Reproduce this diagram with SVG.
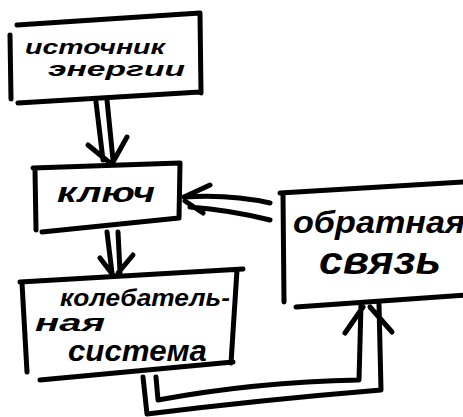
<svg xmlns="http://www.w3.org/2000/svg" width="463" height="417" viewBox="0 0 463 417">
<style>
.ln{stroke:#000;stroke-width:5;fill:none;stroke-linecap:round;stroke-linejoin:round}
.t{font-family:"Liberation Sans","DejaVu Sans",sans-serif;font-style:italic;font-weight:bold;fill:#000}
</style>
<rect width="463" height="417" fill="#fff"/>
<g id="node-source">
<path class="ln" d="M17 25 L200 13 M10 35 L11 99 M200 13 L201 93 M18 103 L200 92"/>
<text class="t" x="25" y="54" font-size="21" textLength="140" lengthAdjust="spacingAndGlyphs">источник</text>
<text class="t" x="48" y="76" font-size="21" textLength="137" lengthAdjust="spacingAndGlyphs">энергии</text>
</g>
<g id="node-key">
<path class="ln" d="M33 168 L180 163 M35 169 L36 230 M180 163 L179 218 M42 232 L179 218"/>
<text class="t" x="57" y="202" font-size="28" textLength="98" lengthAdjust="spacingAndGlyphs">ключ</text>
</g>
<g id="node-osc">
<path class="ln" d="M20 282 L243 269 M22 283 L27 372 M237 270 L231 363 M40 380 L233 362"/>
<text class="t" x="60" y="306" font-size="24" textLength="170" lengthAdjust="spacingAndGlyphs">колебатель-</text>
<text class="t" x="35" y="331" font-size="24" textLength="70" lengthAdjust="spacingAndGlyphs">ная</text>
<text class="t" x="68" y="361" font-size="29" textLength="139" lengthAdjust="spacingAndGlyphs">система</text>
</g>
<g id="node-feedback">
<path class="ln" d="M280 193 L465 182 M283 194 L284 302 M296 307 L465 295"/>
<text class="t" x="293" y="233" font-size="32" textLength="172" lengthAdjust="spacingAndGlyphs">обратная</text>
<text class="t" x="319" y="274" font-size="38" textLength="122" lengthAdjust="spacingAndGlyphs">связь</text>
</g>
<g id="connectors">
<path class="ln" d="M96 102 L103 160 M107 100 L113 160 M88 145 L110 163 M127 137 L113 162"/>
<path class="ln" d="M107 232 L112 273 M118 232 L120 272 M100 258 L113 275 M133 255 L118 273"/>
<path class="ln" d="M270 203 Q230 194 184 197 M270 220 Q230 210 190 207 M210 185 L184 197 M203 213 L185 201"/>
<path class="ln" d="M143 377 L147 414 Q260 400 381 390 L379 304 M156 377 L158 400 Q255 382 359 380 L361 305 M345 333 L363 307 M392 332 L370 307"/>
</g>
</svg>
